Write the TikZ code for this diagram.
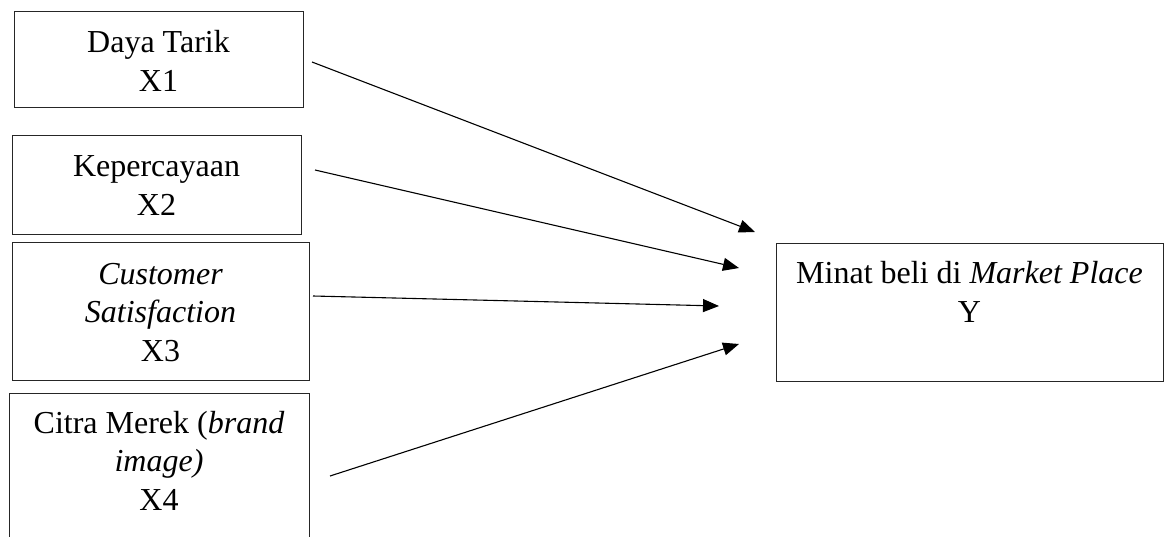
\documentclass[tikz,border=0pt]{standalone}
\usepackage{fontspec}
\setmainfont{Liberation Serif}
\usetikzlibrary{arrows.meta}
\begin{document}
\begin{tikzpicture}[x=1pt,y=-1pt,
  box/.style={draw=black!85,line width=1pt,rectangle,inner sep=0pt},
  lbl/.style={inner sep=0pt,align=center,anchor=base,
    font=\fontsize{32}{38.5}\selectfont},
  link/.style={line width=1.1pt,-{Triangle[length=16pt,width=13pt]}}]
\clip (0,0) rectangle (1168,536);
% variable boxes
\node[box,minimum width=289pt,minimum height=96pt]  (b1) at (158.5,59) {};
\node[box,minimum width=289pt,minimum height=99pt]  (b2) at (156.5,184.5) {};
\node[box,minimum width=297pt,minimum height=138pt] (b3) at (160.5,311) {};
\node[box,minimum width=300pt,minimum height=152pt] (b4) at (159,469) {};
\node[box,minimum width=387pt,minimum height=138pt] (by) at (969.5,312) {};
% labels (positioned by the baseline of their last line)
\node[lbl] (t1) at (158.5,91) {Daya Tarik\\X1};
\node[lbl] (t2) at (156.5,215) {Kepercayaan\\X2};
\node[lbl] (t3) at (160.5,361) {\itshape Customer\\\itshape Satisfaction\\X3};
\node[lbl] (t4) at (159,510) {Citra Merek (\textit{brand}\\\textit{image)}\\X4};
\node[lbl] (ty) at (969.5,322) {Minat beli di \textit{Market Place}\\Y};
% arrow ends
\coordinate (s1) at (312,62);  \coordinate (e1) at (755,232);
\coordinate (s2) at (315,170); \coordinate (e2) at (739,268);
\coordinate (s3) at (313,296); \coordinate (e3) at (719,306);
\coordinate (s4) at (330,476); \coordinate (e4) at (739,344);
\draw[link] (s1) -- (e1);
\draw[link] (s2) -- (e2);
\draw[link] (s3) -- (e3);
\draw[link] (s4) -- (e4);
\end{tikzpicture}
\end{document}
